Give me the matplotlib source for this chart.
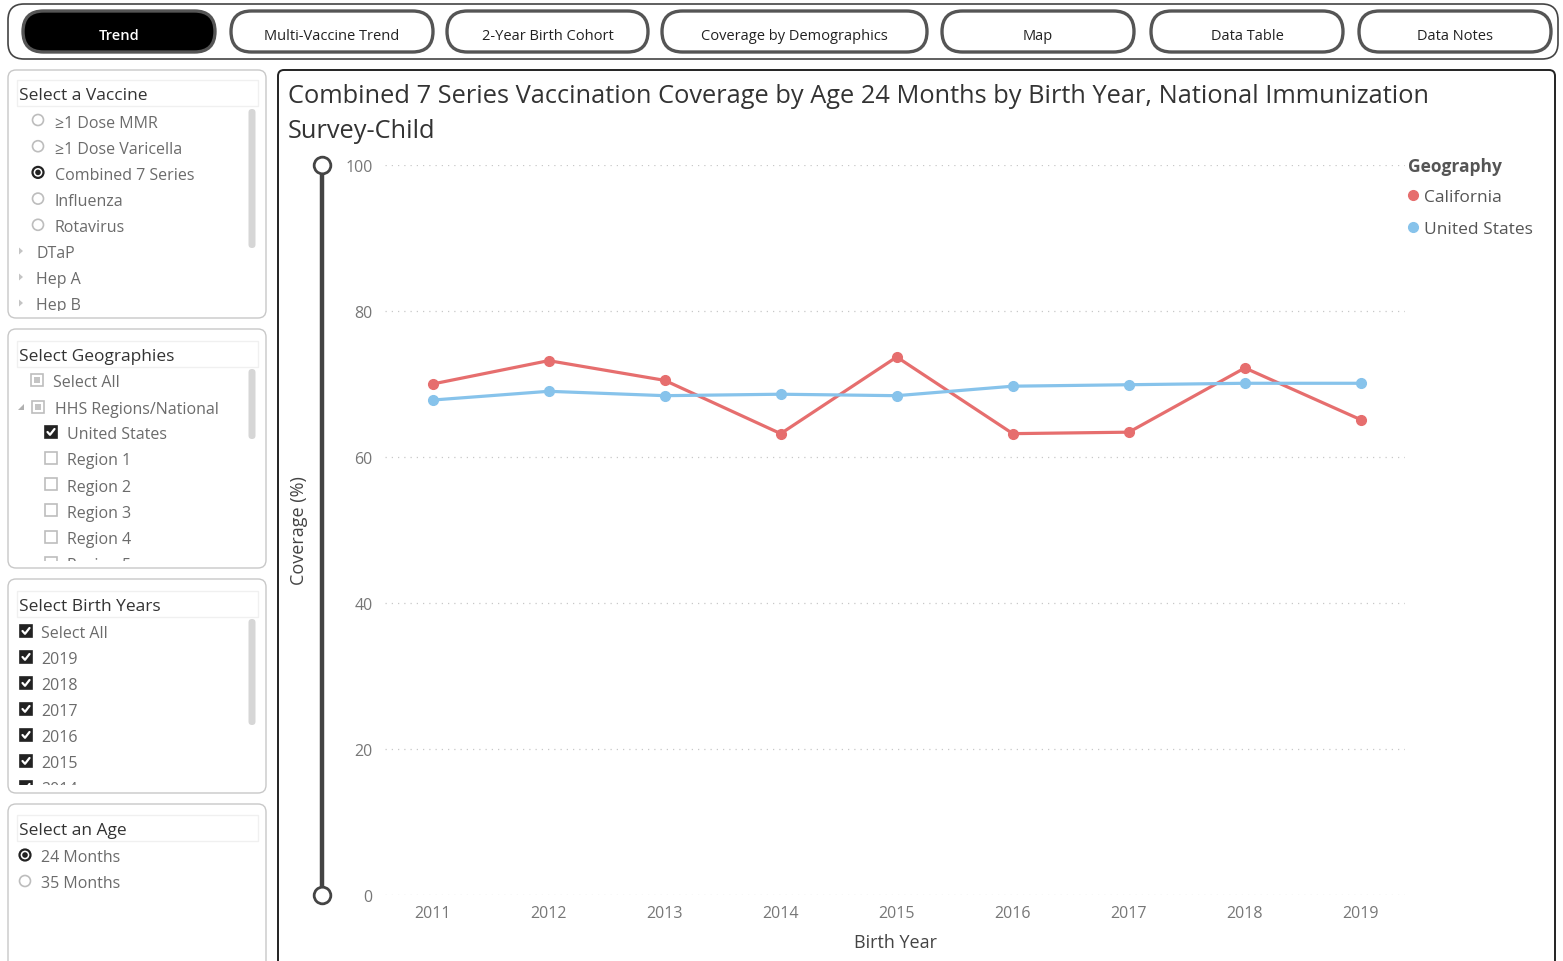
import matplotlib
matplotlib.use("Agg")
import matplotlib.pyplot as plt
import matplotlib.transforms as mtransforms
from matplotlib.patches import FancyBboxPatch, Rectangle, Circle, Polygon
from matplotlib.lines import Line2D

plt.rcParams["font.family"] = ["Open Sans", "DejaVu Sans"]

# ---- data ----
years = [2011, 2012, 2013, 2014, 2015, 2016, 2017, 2018, 2019]
california = [70.0, 73.2, 70.5, 63.2, 73.7, 63.2, 63.4, 72.2, 65.1]
united_states = [67.8, 69.0, 68.4, 68.6, 68.4, 69.7, 69.9, 70.1, 70.1]
y_ticks = [0, 20, 40, 60, 80, 100]

tabs = ["Trend", "Multi-Vaccine Trend", "2-Year Birth Cohort",
        "Coverage by Demographics", "Map", "Data Table", "Data Notes"]
vaccine_options = ["\u22651 Dose MMR", "\u22651 Dose Varicella", "Combined 7 Series",
                   "Influenza", "Rotavirus"]
vaccine_groups = ["DTaP", "Hep A", "Hep B"]
geo_regions = ["Region 1", "Region 2", "Region 3", "Region 4", "Region 5"]
birth_year_items = ["Select All", "2019", "2018", "2017", "2016", "2015", "2014"]
ages = ["24 Months", "35 Months"]

title_lines = ["Combined 7 Series Vaccination Coverage by Age 24 Months by Birth Year, National Immunization",
               "Survey-Child"]

CA_COLOR = "#E66E6E"
US_COLOR = "#87C3EB"
ITEM = "#6b6b6b"
HEAD = "#333333"
TOFF = 2.5  # text baseline nudge in px

W, H = 1563, 962
fig = plt.figure(figsize=(W / 100, H / 100), dpi=100)

# overlay in pixel coords (y down)
ov = fig.add_axes([0, 0, 1, 1])
ov.set_xlim(0, W)
ov.set_ylim(H, 0)
ov.axis("off")


def rbox(x0, y0, x1, y1, r, fc="white", ec="#c8c8c8", lw=1.0, z=1):
    p = FancyBboxPatch((x0, y0), x1 - x0, y1 - y0,
                       boxstyle="round,pad=0,rounding_size=%g" % r,
                       fc=fc, ec=ec, lw=lw, zorder=z)
    ov.add_patch(p)
    return p


def label(x, y, s, clip_y=None, **kw):
    kw.setdefault("fontsize", 11.5)
    kw.setdefault("color", ITEM)
    t = ov.text(x, y + TOFF, s, va="center", ha="left", zorder=3, **kw)
    if clip_y is not None:
        t.set_clip_box(mtransforms.Bbox.from_extents(0, H - clip_y, W, H))
        t.set_clip_on(True)
    return t


def radio(x, y, on):
    if on:
        ov.add_patch(Circle((x, y), 5.5, fc="white", ec="#222222", lw=1.6, zorder=3))
        ov.add_patch(Circle((x, y), 2.8, fc="#222222", ec="none", zorder=4))
    else:
        ov.add_patch(Circle((x, y), 5.5, fc="white", ec="#bdbdbd", lw=1.2, zorder=3))


def checkbox(x, y, state, clip_y=None):
    s = 12
    r = Rectangle((x - s / 2, y - s / 2), s, s, zorder=3,
                  fc="#222222" if state == "on" else "white",
                  ec="#222222" if state == "on" else "#bdbdbd", lw=1.2)
    ov.add_patch(r)
    if clip_y is not None:
        r.set_clip_box(mtransforms.Bbox.from_extents(0, H - clip_y, W, H))
        r.set_clip_on(True)
    if state == "on":
        ln, = ov.plot([x - 3.5, x - 1, x + 3.5], [y, y + 2.8, y - 3], color="white",
                      lw=1.6, zorder=4, solid_capstyle="round")
        if clip_y is not None:
            ln.set_clip_box(mtransforms.Bbox.from_extents(0, H - clip_y, W, H))
            ln.set_clip_on(True)
    elif state == "partial":
        ov.add_patch(Rectangle((x - 3, y - 3), 6, 6, fc="#c4c4c4", ec="none", zorder=4))


def tri_right(x, y):
    ov.add_patch(Polygon([[x - 2, y - 3.5], [x - 2, y + 3.5], [x + 2, y]],
                         closed=True, fc="#c4c4c4", ec="none", zorder=3))


def tri_down(x, y):
    ov.add_patch(Polygon([[x + 3, y - 3], [x + 3, y + 3], [x - 3, y + 3]],
                         closed=True, fc="#b0b0b0", ec="none", zorder=3))


def scrollbar(x, y0, y1):
    rbox(x - 3.5, y0, x + 3.5, y1, 3.5, fc="#d6d6d6", ec="none", z=2)


def header(y, text):
    ov.add_patch(Rectangle((17, y - 13), 241, 26, fc="white", ec="#f0f0f0", lw=1, zorder=2))
    label(19, y, text, fontsize=12.5, color=HEAD)


# ---- top tab bar ----
rbox(8, 5, 1558, 60, 16, fc="white", ec="#444444", lw=1.2)
tab_edges = [(23, 215), (231, 433), (447, 648), (662, 927), (942, 1134), (1151, 1343), (1359, 1551)]
for i, (lbl, (x0, x1)) in enumerate(zip(tabs, tab_edges)):
    sel = i == 0
    rbox(x0, 12, x1, 53, 20.5, fc="black" if sel else "white", ec="#555555", lw=2.4, z=2)
    ov.text((x0 + x1) / 2, 34 + TOFF, lbl, ha="center", va="center", fontsize=10.5,
            color="white" if sel else "#222222", zorder=3,
            fontweight="semibold" if sel else "normal")

# ---- left slicer panels ----
rbox(8, 71, 266, 319, 8)
rbox(8, 330, 266, 569, 8)
rbox(8, 580, 266, 794, 8)
rbox(8, 805, 266, 990, 8)

# vaccine panel
header(94, "Select a Vaccine")
for i, v in enumerate(vaccine_options):
    y = 121 + i * 26.2
    radio(38, y, v == "Combined 7 Series")
    label(55, y, v)
for i, g in enumerate(vaccine_groups):
    y = 252 + i * 26
    tri_right(21, y)
    label(36, y, g, clip_y=312)
scrollbar(252, 110, 249)

# geographies panel
header(355, "Select Geographies")
checkbox(37, 381, "partial")
label(53, 381, "Select All")
tri_down(21, 408)
checkbox(38, 408, "partial")
label(55, 408, "HHS Regions/National")
checkbox(51, 433, "on")
label(67, 433, "United States")
for i, r in enumerate(geo_regions):
    y = 459 + i * 26.2
    checkbox(51, y, "off", clip_y=562)
    label(67, y, r, clip_y=562)
scrollbar(252, 370, 440)

# birth years panel
header(605, "Select Birth Years")
for i, b in enumerate(birth_year_items):
    y = 632 + i * 26
    checkbox(26, y, "on", clip_y=786)
    label(41, y, b, clip_y=786)
scrollbar(252, 620, 726)

# age panel
header(829, "Select an Age")
for i, a in enumerate(ages):
    y = 856 + i * 26
    radio(25, y, i == 0)
    label(41, y, a)

# ---- main chart panel ----
rbox(278, 71, 1555, 1000, 6, fc="white", ec="#222222", lw=1.4)
for i, line in enumerate(title_lines):
    label(288, 94 + i * 35, line, fontsize=18.3, color=HEAD)

ax = fig.add_axes([385 / W, (H - 896) / H, (1405 - 385) / W, (896 - 166) / H])
ax.patch.set_alpha(0)
ax.plot(years, california, color=CA_COLOR, lw=2.3, marker="o", ms=7, zorder=3)
ax.plot(years, united_states, color=US_COLOR, lw=2.3, marker="o", ms=7, zorder=3)
ax.set_xlim(years[0] - 0.41, years[-1] + 0.38)
ax.set_ylim(0, 100)
ax.set_yticks(y_ticks)
ax.set_xticks(years)
ax.tick_params(length=0, colors="#777777", labelsize=11.5)
ax.tick_params(axis="y", pad=9)
ax.tick_params(axis="x", pad=7)
ax.yaxis.grid(True, linestyle=(0, (1, 4)), color="#c8c8c8", lw=0.9)
for s in ax.spines.values():
    s.set_visible(False)
ax.set_ylabel("Coverage (%)", fontsize=13, color="#444444")
ax.yaxis.set_label_coords((308 - 385) / 1020, 0.50)
ax.set_xlabel("Birth Year", fontsize=13, color="#444444")
ax.xaxis.set_label_coords(0.5, -(934 - 896) / 730)

# range slider on the value axis
sl = mtransforms.blended_transform_factory(ov.transData, ax.transData)
ax.plot([322, 322], [y_ticks[0], y_ticks[-1]], transform=sl, color="#444444", lw=3.2,
        clip_on=False, zorder=4)
ax.plot([322, 322], [y_ticks[0], y_ticks[-1]], transform=sl, ls="none", marker="o", ms=12,
        mfc="white", mec="#444444", mew=2, clip_on=False, zorder=5)

# legend
handles = [Line2D([], [], ls="none", marker="o", ms=7, color=CA_COLOR),
           Line2D([], [], ls="none", marker="o", ms=7, color=US_COLOR)]
leg = ax.legend(handles, ["California", "United States"], title="Geography",
                loc="upper left", bbox_to_anchor=(1403 / W, 1 - 153 / H),
                bbox_transform=fig.transFigure, frameon=False, fontsize=12.5,
                handlelength=0.6, handletextpad=0.3, labelspacing=0.95,
                alignment="left", borderaxespad=0, borderpad=0.3)
leg.get_title().set_fontweight("bold")
leg.get_title().set_fontsize(12.5)
leg.get_title().set_color("#555555")
leg._legend_box.sep = 9.6
for t in leg.get_texts():
    t.set_color("#555555")

fig.savefig("out.png", dpi=100)
